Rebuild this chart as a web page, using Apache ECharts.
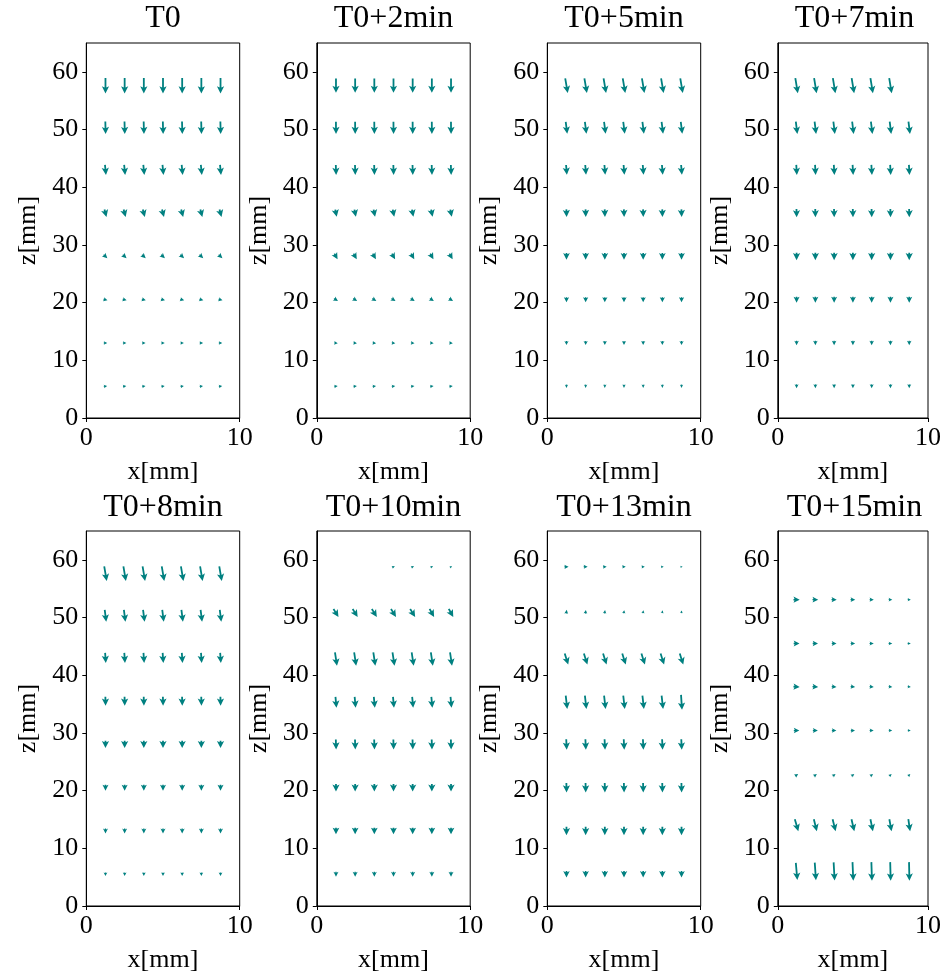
<!DOCTYPE html>
<html><head><meta charset="utf-8">
<script src="https://cdn.jsdelivr.net/npm/echarts@6/dist/echarts.min.js"></script>
<style>html,body{margin:0;padding:0;background:#fff}#c{width:944px;height:975px}</style>
</head><body><div id="c"></div>
<script>
// ---------------- data ----------------
const panelTitles = ['T0','T0+2min','T0+5min','T0+7min','T0+8min','T0+10min','T0+13min','T0+15min'];
const xCols = [1.25, 2.5, 3.75, 5, 6.25, 7.5, 8.75];
const xTicks = [0, 10];
const zTicks = [0, 10, 20, 30, 40, 50, 60];

// rows listed bottom -> top ; u = horizontal component, w = vertical component
const zRows_T0 = [5.5, 13, 20.5, 28, 35.5, 43, 50.3, 57.6];
const u_T0 = [
  [0.33,0.33,0.33,0.33,0.33,0.33,0.33],
  [0.35,0.35,0.35,0.35,0.35,0.35,0.35],
  [0.40,0.40,0.40,0.40,0.40,0.40,0.40],
  [0.38,0.38,0.38,0.38,0.38,0.38,0.38],
  [0.20,0.20,0.20,0.20,0.20,0.20,0.20],
  [0.10,0.10,0.10,0.10,0.10,0.10,0.10],
  [0.03,0.03,0.03,0.03,0.03,0.03,0.03],
  [0.00,0.00,0.00,0.00,0.00,0.00,0.00]];
const w_T0 = [
  [0.05,0.05,0.05,0.05,0.05,0.05,0.05],
  [0.00,0.00,0.00,0.00,0.00,0.00,0.00],
  [-0.12,-0.12,-0.12,-0.12,-0.12,-0.12,-0.12],
  [-0.35,-0.35,-0.35,-0.35,-0.35,-0.35,-0.35],
  [-0.75,-0.75,-0.75,-0.75,-0.75,-0.75,-0.75],
  [-1.00,-1.00,-1.00,-1.00,-1.00,-1.00,-1.00],
  [-1.25,-1.25,-1.25,-1.25,-1.25,-1.25,-1.25],
  [-1.55,-1.55,-1.55,-1.55,-1.55,-1.55,-1.55]];

const zRows_T2 = [5.5, 13, 20.5, 28, 35.5, 43, 50.3, 57.6];
const u_T2 = [
  [0.35,0.35,0.35,0.35,0.35,0.35,0.35],
  [0.36,0.36,0.36,0.36,0.36,0.36,0.36],
  [0.40,0.40,0.40,0.40,0.40,0.40,0.40],
  [0.32,0.32,0.32,0.32,0.32,0.32,0.32],
  [0.15,0.15,0.15,0.15,0.15,0.15,0.15],
  [0.03,0.03,0.03,0.03,0.03,0.03,0.03],
  [0.01,0.01,0.01,0.01,0.01,0.01,0.01],
  [0.00,0.00,0.00,0.00,0.00,0.00,0.00]];
const w_T2 = [
  [0.03,0.03,0.03,0.03,0.03,0.03,0.03],
  [-0.03,-0.03,-0.03,-0.03,-0.03,-0.03,-0.03],
  [-0.25,-0.25,-0.25,-0.25,-0.25,-0.25,-0.25],
  [-0.55,-0.55,-0.55,-0.55,-0.55,-0.55,-0.55],
  [-0.72,-0.72,-0.72,-0.72,-0.72,-0.72,-0.72],
  [-1.00,-1.00,-1.00,-1.00,-1.00,-1.00,-1.00],
  [-1.23,-1.23,-1.23,-1.23,-1.23,-1.23,-1.23],
  [-1.43,-1.43,-1.43,-1.43,-1.43,-1.43,-1.43]];

const zRows_T5 = [5.5, 13, 20.5, 28, 35.5, 43, 50.3, 57.6];
const u_T5 = [
  [0.00,0.00,0.00,0.00,0.00,0.00,0.00],
  [0.00,0.00,0.00,0.00,0.00,0.00,0.00],
  [0.00,0.00,0.00,0.00,0.00,0.00,0.00],
  [0.00,0.00,0.00,0.00,0.00,0.00,0.00],
  [0.03,0.03,0.03,0.03,0.03,0.03,0.03],
  [0.08,0.08,0.08,0.08,0.08,0.08,0.08],
  [0.15,0.15,0.15,0.15,0.15,0.15,0.15],
  [0.25,0.25,0.25,0.25,0.25,0.25,0.25]];
const w_T5 = [
  [-0.33,-0.33,-0.33,-0.33,-0.33,-0.33,-0.33],
  [-0.42,-0.42,-0.42,-0.42,-0.42,-0.42,-0.42],
  [-0.52,-0.52,-0.52,-0.52,-0.52,-0.52,-0.52],
  [-0.67,-0.67,-0.67,-0.67,-0.67,-0.67,-0.67],
  [-0.77,-0.77,-0.77,-0.77,-0.77,-0.77,-0.77],
  [-0.98,-0.98,-0.98,-0.98,-0.98,-0.98,-0.98],
  [-1.20,-1.20,-1.20,-1.20,-1.20,-1.20,-1.20],
  [-1.45,-1.45,-1.45,-1.45,-1.45,-1.45,-1.45]];

const zRows_T7 = [5.5, 13, 20.5, 28, 35.5, 43, 50.3, 57.6];
const u_T7 = [
  [0.00,0.00,0.00,0.00,0.00,0.00,0.00],
  [0.00,0.00,0.00,0.00,0.00,0.00,0.00],
  [0.00,0.00,0.00,0.00,0.00,0.00,0.00],
  [0.00,0.00,0.00,0.00,0.00,0.00,0.00],
  [0.02,0.02,0.02,0.02,0.02,0.02,0.02],
  [0.06,0.06,0.06,0.06,0.06,0.06,0.06],
  [0.15,0.15,0.15,0.15,0.15,0.15,0.15],
  [0.25,0.25,0.25,0.25,0.25,0.25,null]];
const w_T7 = [
  [-0.40,-0.40,-0.40,-0.40,-0.40,-0.40,-0.40],
  [-0.45,-0.45,-0.45,-0.45,-0.45,-0.45,-0.45],
  [-0.60,-0.60,-0.60,-0.60,-0.60,-0.60,-0.60],
  [-0.75,-0.75,-0.75,-0.75,-0.75,-0.75,-0.75],
  [-0.83,-0.83,-0.83,-0.83,-0.83,-0.83,-0.83],
  [-1.00,-1.00,-1.00,-1.00,-1.00,-1.00,-1.00],
  [-1.23,-1.23,-1.23,-1.23,-1.23,-1.23,-1.25],
  [-1.50,-1.50,-1.50,-1.50,-1.50,-1.50,null]];

const zRows_T8 = [5.5, 13, 20.5, 28, 35.5, 43, 50.3, 57.6];
const u_T8 = [
  [0.00,0.00,0.00,0.00,0.00,0.00,0.00],
  [0.00,0.00,0.00,0.00,0.00,0.00,0.00],
  [0.00,0.00,0.00,0.00,0.00,0.00,0.00],
  [0.00,0.00,0.00,0.00,0.00,0.00,0.00],
  [0.02,0.02,0.02,0.02,0.02,0.02,0.02],
  [0.07,0.07,0.07,0.07,0.07,0.07,0.07],
  [0.15,0.15,0.15,0.15,0.15,0.15,0.15],
  [0.25,0.25,0.25,0.25,0.25,0.25,0.25]];
const w_T8 = [
  [-0.37,-0.37,-0.37,-0.37,-0.37,-0.37,-0.37],
  [-0.50,-0.50,-0.50,-0.50,-0.50,-0.50,-0.50],
  [-0.60,-0.60,-0.60,-0.60,-0.60,-0.60,-0.60],
  [-0.73,-0.73,-0.73,-0.73,-0.73,-0.73,-0.73],
  [-0.90,-0.90,-0.90,-0.90,-0.90,-0.90,-0.90],
  [-1.00,-1.00,-1.00,-1.00,-1.00,-1.00,-1.00],
  [-1.20,-1.20,-1.20,-1.20,-1.20,-1.20,-1.20],
  [-1.45,-1.45,-1.45,-1.45,-1.45,-1.45,-1.45]];

const zRows_T10 = [5.5, 13, 20.5, 28, 35.3, 42.8, 50.8, 58.8];
const u_T10 = [
  [0.00,0.00,0.00,0.00,0.00,0.00,0.00],
  [0.00,0.00,0.00,0.00,0.00,0.00,0.00],
  [0.00,0.00,0.00,0.00,0.00,0.00,0.00],
  [0.03,0.03,0.03,0.03,0.03,0.03,0.03],
  [0.10,0.10,0.10,0.10,0.10,0.10,0.10],
  [0.20,0.20,0.20,0.20,0.20,0.20,0.20],
  [0.50,0.50,0.50,0.50,0.50,0.45,0.45],
  [null,null,null,0.28,0.28,0.25,0.22]];
const w_T10 = [
  [-0.50,-0.50,-0.50,-0.50,-0.50,-0.50,-0.50],
  [-0.67,-0.67,-0.67,-0.67,-0.67,-0.67,-0.67],
  [-0.77,-0.77,-0.77,-0.77,-0.77,-0.77,-0.77],
  [-1.00,-1.00,-1.00,-1.00,-1.00,-1.00,-1.00],
  [-1.10,-1.10,-1.10,-1.10,-1.10,-1.10,-1.10],
  [-1.35,-1.35,-1.35,-1.35,-1.35,-1.35,-1.35],
  [-0.80,-0.80,-0.80,-0.80,-0.80,-0.80,-0.80],
  [null,null,null,0.12,0.12,0.12,0.12]];

const zRows_T13 = [5.5, 13, 20.5, 28, 35.3, 42.8, 51, 58.8];
const u_T13 = [
  [0.00,0.00,0.00,0.00,0.00,0.00,0.00],
  [0.00,0.00,0.00,0.00,0.00,0.00,0.00],
  [0.02,0.02,0.02,0.02,0.02,0.02,0.02],
  [0.05,0.05,0.05,0.05,0.05,0.05,0.05],
  [0.15,0.15,0.15,0.15,0.15,0.15,0.10],
  [0.35,0.35,0.35,0.35,0.35,0.35,0.35],
  [0.05,0.05,0.05,0.05,0.05,0.05,0.05],
  [0.42,0.40,0.37,0.35,0.32,0.27,0.22]];
const w_T13 = [
  [-0.65,-0.65,-0.65,-0.65,-0.65,-0.65,-0.65],
  [-0.85,-0.85,-0.85,-0.85,-0.85,-0.85,-0.85],
  [-0.95,-0.95,-0.95,-0.95,-0.95,-0.95,-0.95],
  [-1.05,-1.05,-1.05,-1.05,-1.05,-1.05,-1.05],
  [-1.35,-1.35,-1.35,-1.35,-1.35,-1.35,-1.50],
  [-1.10,-1.10,-1.10,-1.10,-1.10,-1.10,-1.10],
  [0.38,0.36,0.34,0.32,0.30,0.28,0.27],
  [0.02,0.02,0.02,0.02,0.02,0.02,0.02]];

const zRows_T15 = [6, 14, 22.7, 30.4, 38, 45.5, 53.1];
const u_T15 = [
  [0.15,0.12,0.10,0.08,0.06,0.05,0.04],
  [0.35,0.30,0.30,0.28,0.25,0.22,0.18],
  [0.32,0.30,0.28,0.27,0.26,0.24,0.22],
  [0.55,0.50,0.45,0.42,0.40,0.35,0.30],
  [0.62,0.57,0.48,0.45,0.42,0.37,0.32],
  [0.58,0.53,0.48,0.45,0.42,0.37,0.32],
  [0.62,0.57,0.52,0.47,0.42,0.37,0.32]];
const w_T15 = [
  [-1.70,-1.75,-1.80,-1.85,-1.85,-1.85,-1.85],
  [-1.20,-1.20,-1.20,-1.20,-1.20,-1.20,-1.20],
  [0.22,0.22,0.22,0.22,0.22,0.22,0.22],
  [0.00,0.00,0.00,0.00,0.00,0.00,0.00],
  [-0.03,-0.03,-0.03,-0.03,-0.03,-0.03,-0.03],
  [0.00,0.00,0.00,0.00,0.00,0.00,0.00],
  [0.00,0.00,0.00,0.00,0.00,0.00,0.00]];

const panels = [
  [zRows_T0, u_T0, w_T0], [zRows_T2, u_T2, w_T2], [zRows_T5, u_T5, w_T5], [zRows_T7, u_T7, w_T7],
  [zRows_T8, u_T8, w_T8], [zRows_T10, u_T10, w_T10], [zRows_T13, u_T13, w_T13], [zRows_T15, u_T15, w_T15]
];

// ---------------- style / layout ----------------
const COLOR = '#008080';
const SCALE = 10;      // px per vector unit
const SW = 1.8;        // shaft width px
const FONT = "'Liberation Serif', 'Times New Roman', serif";
const LEFTS = [86.3, 316.8, 547.3, 777.8];
const GW = 153.4;
const TOPS = [43, 531];
const GH = 375;

function renderArrow(params, api) {
  const c = api.coord([api.value(0), api.value(1)]);
  const dx = api.value(2) * SCALE, dy = -api.value(3) * SCALE;
  const L = Math.hypot(dx, dy);
  if (!(L > 0.3)) return;
  const hl = 4.0 * SW, hal = 3.3 * SW, hw = 2.0 * SW, sw = 0.5 * SW;
  let pts;
  if (L >= hl) {
    pts = [[0, sw], [L - hal, sw], [L - hl, hw], [L, 0], [L - hl, -hw], [L - hal, -sw], [0, -sw]];
  } else {
    const s = L / hl;
    pts = [[0, sw], [hl - hal, sw], [0, hw], [hl, 0], [0, -hw], [hl - hal, -sw], [0, -sw]]
      .map(p => [p[0] * s, p[1] * s]);
  }
  const cs = dx / L, sn = dy / L;
  const out = pts.map(p => {
    const x = p[0] - L / 2, y = p[1];
    return [c[0] + x * cs - y * sn, c[1] + x * sn + y * cs];
  });
  return { type: 'polygon', shape: { points: out }, style: { fill: COLOR } };
}

const grids = [], xAxes = [], yAxes = [], series = [], graphics = [];
panels.forEach((pn, i) => {
  const col = i % 4, row = Math.floor(i / 4);
  const left = LEFTS[col], top = TOPS[row];
  grids.push({ left: left, top: top, width: GW, height: GH, show: true, borderColor: '#000', borderWidth: 1, backgroundColor: 'transparent' });
  xAxes.push({
    type: 'value', gridIndex: i, min: 0, max: 10,
    name: 'x[mm]', nameLocation: 'middle', nameGap: 41,
    nameTextStyle: { fontFamily: FONT, fontSize: 26, color: '#000' },
    axisLine: { show: true, lineStyle: { color: '#000', width: 1 } },
    axisTick: { show: true, length: 4, customValues: xTicks, lineStyle: { color: '#000', width: 1 } },
    axisLabel: { show: true, customValues: xTicks, fontFamily: FONT, fontSize: 26, color: '#000', margin: 7 },
    splitLine: { show: false }
  });
  yAxes.push({
    type: 'value', gridIndex: i, min: 0, max: 65,
    name: 'z[mm]', nameLocation: 'middle', nameGap: 45,
    nameTextStyle: { fontFamily: FONT, fontSize: 26, color: '#000' },
    axisLine: { show: true, lineStyle: { color: '#000', width: 1 } },
    axisTick: { show: true, length: 4, customValues: zTicks, lineStyle: { color: '#000', width: 1 } },
    axisLabel: { show: true, customValues: zTicks, fontFamily: FONT, fontSize: 26, color: '#000', margin: 8 },
    splitLine: { show: false }
  });
  const [zRows, U, W] = pn;
  const data = [];
  zRows.forEach((z, r) => {
    xCols.forEach((x, c) => {
      if (U[r][c] != null && W[r][c] != null) data.push([x, z, U[r][c], W[r][c]]);
    });
  });
  series.push({
    type: 'custom', xAxisIndex: i, yAxisIndex: i, renderItem: renderArrow,
    data: data, silent: true, animation: false, clip: false
  });
  graphics.push({
    type: 'text', x: left + GW / 2, y: (row === 0 ? 35 : 524),
    style: { text: panelTitles[i], font: "32px " + FONT, fill: '#000', align: 'center', verticalAlign: 'bottom' }
  });
});

const chart = echarts.init(document.getElementById('c'), null, { renderer: 'canvas' });
chart.setOption({
  animation: false,
  backgroundColor: '#fff',
  grid: grids, xAxis: xAxes, yAxis: yAxes, series: series,
  graphic: graphics
});
</script></body></html>
